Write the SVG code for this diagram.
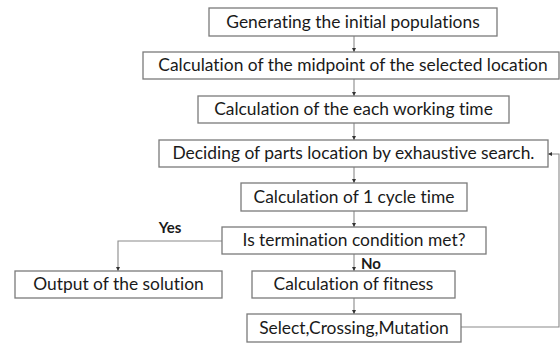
<svg xmlns="http://www.w3.org/2000/svg" width="560" height="344" viewBox="0 0 560 344">
<style>
.box{fill:#fff;stroke:#7a7a7a;stroke-width:1.3}
.t{font-family:Lato,"Open Sans",sans-serif;font-size:17.4px;fill:#1a1a1a;text-anchor:middle;font-variant-ligatures:none}
.lbl{font-family:Lato,"Open Sans",sans-serif;font-size:15px;font-weight:bold;fill:#1a1a1a}
.c{fill:none;stroke:#8a8a8a;stroke-width:1.1}
</style>
<defs>
<marker id="ah" markerWidth="5" markerHeight="5" refX="4" refY="2.5" orient="auto" markerUnits="userSpaceOnUse">
<path d="M0,0.5 L4,2.5 L0,4.5 Z" fill="#333"/>
</marker>
</defs>
<rect width="560" height="344" fill="#fff"/>
<g id="connectors">
<path class="c" d="M354,36 V52" marker-end="url(#ah)"/>
<path class="c" d="M354,79 V96" marker-end="url(#ah)"/>
<path class="c" d="M354,123 V140" marker-end="url(#ah)"/>
<path class="c" d="M354,167 V183" marker-end="url(#ah)"/>
<path class="c" d="M354,211 V227" marker-end="url(#ah)"/>
<path class="c" d="M354,254 V271" marker-end="url(#ah)"/>
<path class="c" d="M354,298 V314" marker-end="url(#ah)"/>
<path class="c" d="M222,241 H118 V271" marker-end="url(#ah)"/>
<path class="c" d="M461,327 H559 V154 H548" marker-end="url(#ah)"/>
<text class="lbl" x="170" y="233" text-anchor="middle">Yes</text>
<text class="lbl" x="361" y="269">No</text>
</g>
<g id="n1"><rect class="box" x="209" y="8" width="288" height="28"/><text class="t" x="353" y="28">Generating the initial populations</text></g>
<g id="n2"><rect class="box" x="143" y="52" width="416" height="27"/><text class="t" x="353" y="71">Calculation of the midpoint of the selected location</text></g>
<g id="n3"><rect class="box" x="198" y="96" width="311" height="27"/><text class="t" x="353.5" y="115">Calculation of the each working time</text></g>
<g id="n4"><rect class="box" x="159" y="140" width="389" height="27"/><text class="t" x="353.5" y="159">Deciding of parts location by exhaustive search.</text></g>
<g id="n5"><rect class="box" x="241" y="183" width="226" height="28"/><text class="t" x="354" y="203">Calculation of 1 cycle time</text></g>
<g id="n6"><rect class="box" x="222" y="227" width="264" height="27"/><text class="t" x="354" y="246">Is termination condition met?</text></g>
<g id="n7"><rect class="box" x="15" y="271" width="207" height="27"/><text class="t" x="118.5" y="290">Output of the solution</text></g>
<g id="n8"><rect class="box" x="252" y="271" width="203" height="27"/><text class="t" x="353.5" y="290">Calculation of fitness</text></g>
<g id="n9"><rect class="box" x="247" y="314" width="214" height="28"/><text class="t" x="354" y="334">Select,Crossing,Mutation</text></g>
</svg>
